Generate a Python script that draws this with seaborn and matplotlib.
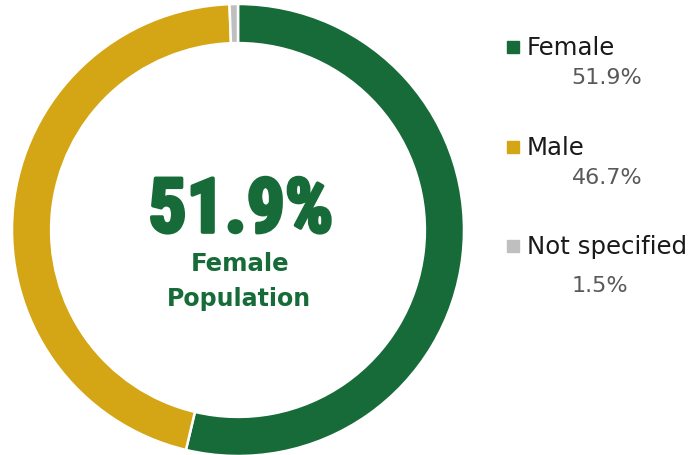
import matplotlib
matplotlib.use('Agg')
import matplotlib.pyplot as plt
import matplotlib.patheffects as pe
import seaborn as sns
from matplotlib import font_manager

# data
labels = ['Female', 'Male', 'Not specified']
share_text = ['51.9%', '46.7%', '1.5%']
# arc sizes as they are drawn in the picture (percent of the ring)
arc_shares = [53.7, 45.7, 0.6]
colors = ['#176B38', '#D4A514', '#BFBFBF']

sns.set_theme(style='white')

weights = {}
for f in font_manager.fontManager.ttflist:
    weights.setdefault(f.name, set()).add(f.weight)


def pick(cands, need=()):
    for c in cands:
        if c in weights and all(w in weights[c] for w in need):
            return c
    return 'DejaVu Sans'


big_font = pick(['Roboto Condensed', 'Barlow Condensed', 'Archivo Narrow', 'Roboto'], need=(700,))
text_font = pick(['Libre Franklin', 'Public Sans', 'DejaVu Sans'], need=(400, 700))
plt.rcParams['font.family'] = [text_font, 'DejaVu Sans']

W, H = 692, 455
fig = plt.figure(figsize=(W / 100, H / 100), dpi=100)
ax = fig.add_axes([12 / W, (H - 230 - 226) / H, 452 / W, 452 / H])

ax.pie(arc_shares, colors=colors, startangle=90, counterclock=False,
       radius=1.0, wedgeprops=dict(width=0.173, edgecolor='white', linewidth=1.8))
ax.set_xlim(-1, 1)
ax.set_ylim(-1, 1)
ax.set_aspect('equal')
ax.axis('off')

renderer = fig.canvas.get_renderer()


def fit(t, width_px):
    # scale the font so the text spans about the width seen in the reference
    w = t.get_window_extent(renderer).width
    t.set_fontsize(t.get_fontsize() * width_px / w)
    return t


# centre text
big = ax.text(0.013, -0.009, share_text[0], ha='center', va='baseline', fontsize=59,
              fontweight=900, color=colors[0], family=[big_font, 'DejaVu Sans'])
fit(big, 185)
big.set_path_effects([pe.withStroke(linewidth=2.6, foreground=colors[0])])
fit(ax.text(0.007, -0.181, 'Female', ha='center', va='baseline', fontsize=17,
            fontweight='bold', color=colors[0]), 99)
fit(ax.text(0.002, -0.336, 'Population', ha='center', va='baseline', fontsize=17,
            fontweight='bold', color=colors[0]), 145)

# legend drawn as text, positions in figure pixels
label_base = [55, 155, 254]
value_base = [84, 184, 292]
value_x = [607, 607, 600]

label_texts, value_texts = [], []
for lab, txt, col, yb, vb, vx in zip(labels, share_text, colors, label_base,
                                     value_base, value_x):
    fig.patches.append(plt.Rectangle((507 / W, 1 - (yb - 2) / H), 12 / W, 12 / H,
                                     transform=fig.transFigure, color=col, figure=fig))
    label_texts.append(fig.text(527 / W, 1 - yb / H, lab, ha='left', va='baseline',
                                fontsize=17, color='#1a1a1a'))
    value_texts.append(fig.text(vx / W, 1 - vb / H, txt, ha='center', va='baseline',
                                fontsize=16, color='#595959'))

# one size for all labels, one for all values
fit(label_texts[2], 160)
fit(value_texts[0], 71)
for t in label_texts:
    t.set_fontsize(label_texts[2].get_fontsize())
for t in value_texts:
    t.set_fontsize(value_texts[0].get_fontsize())

fig.savefig('out.png', dpi=100)
